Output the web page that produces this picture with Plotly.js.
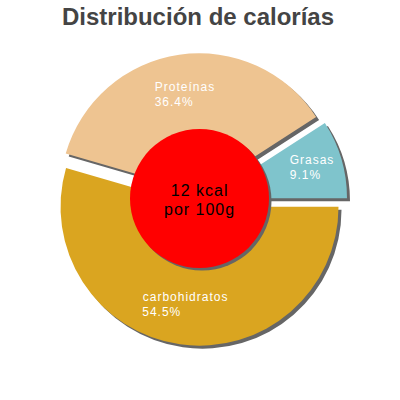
<!DOCTYPE html>
<html><head><meta charset="utf-8">
<script src="https://cdn.plot.ly/plotly-3.0.1.min.js"></script>
<style>
html,body{margin:0;padding:0;background:#fff;}
#chart{width:400px;height:400px;}
.pielayer text, .annotation-text { letter-spacing: 1px; }
</style>
</head><body><div id="chart"></div>
<script>
// ---- data ----
const categories = ['Grasas', 'Proteínas', 'carbohidratos'];
const percentValues = [9.1, 36.4, 54.5];
const titleText = 'Distribución de calorías';
const centerLines = ['12 kcal', 'por 100g'];

// ---- style ----
const sliceColors = ['#7fc4cc', '#eec491', '#daa520'];
const pulls = [0.057, 0.060, 0.045];
const shadowColor = '#666666';
const FONT = '"Liberation Sans", Arial, sans-serif';

const W = 400, H = 400;
const R = 139, cx = 200.4, cy = 200.5;
const maxPull = Math.max(...pulls);
const half = R * (1 + maxPull);
function dom(x, y) {
  return { x: [(x - half) / W, (x + half) / W], y: [1 - (y + half) / H, 1 - (y - half) / H] };
}

const total = percentValues.reduce((a, b) => a + b, 0);
// first slice starts at 3 o'clock and runs counterclockwise
const rotation = 90 - 360 * percentValues[0] / total;

// padding so the percent line appears left-aligned under the label
const ctx = document.createElement('canvas').getContext('2d');
ctx.font = '12px "Liberation Sans"';
const tw = s => ctx.measureText(s).width + s.length * 1;
const pads = categories.map((c, i) => {
  const pct = (percentValues[i] / total * 100).toFixed(1) + '%';
  const n = Math.max(0, Math.round((tw(c) - tw(pct)) / tw('\u00a0')));
  return '\u00a0'.repeat(n);
});

const common = {
  type: 'pie', labels: categories, values: percentValues, sort: false,
  direction: 'counterclockwise', rotation: rotation, pull: pulls, hole: 0.42,
  showlegend: false, hoverinfo: 'skip'
};

const shadow = Object.assign({}, common, {
  marker: { colors: categories.map(() => shadowColor), line: { width: 0 } },
  textinfo: 'none', domain: dom(cx + 3, cy + 3)
});
const main = Object.assign({}, common, {
  marker: { colors: sliceColors, line: { width: 0 } },
  customdata: pads,
  texttemplate: '%{label}<br>%{percent:.1%}%{customdata}',
  textposition: 'inside', insidetextorientation: 'horizontal',
  insidetextfont: { family: FONT, size: 12, color: '#ffffff' },
  domain: dom(cx, cy)
});

const ccx = 199.5, ccy = 198.5, cr = 69.5;
const layout = {
  width: W, height: H, margin: { l: 0, r: 0, t: 0, b: 0 },
  paper_bgcolor: '#ffffff', plot_bgcolor: '#ffffff',
  title: { text: titleText, font: { family: FONT, size: 24, color: '#444444', weight: 'bold' },
           x: 0.495, xanchor: 'center', y: 1 - 17 / H, yanchor: 'middle', yref: 'container' },
  shapes: [
    { type: 'circle', xref: 'paper', yref: 'paper', layer: 'above',
      x0: (ccx - cr + 2.5) / W, x1: (ccx + cr + 2.5) / W, y0: 1 - (ccy + cr + 2.5) / H, y1: 1 - (ccy - cr + 2.5) / H,
      fillcolor: shadowColor, line: { width: 0 } },
    { type: 'circle', xref: 'paper', yref: 'paper', layer: 'above',
      x0: (ccx - cr) / W, x1: (ccx + cr) / W, y0: 1 - (ccy + cr) / H, y1: 1 - (ccy - cr) / H,
      fillcolor: '#ff0000', line: { width: 0 } }
  ],
  annotations: [
    { text: centerLines.join('<br>'), xref: 'paper', yref: 'paper', x: ccx / W, y: 1 - 200 / H,
      xanchor: 'center', yanchor: 'middle', showarrow: false,
      font: { family: FONT, size: 16, color: '#000000' } }
  ]
};

// adjust the line spacing of multi-line texts (Plotly default is 1.3em)
function tighten(sel, spacing) {
  document.querySelectorAll(sel).forEach(t => {
    const lines = Array.from(t.querySelectorAll('tspan.line'));
    if (lines.length < 2) return;
    const shift = (1.3 - spacing) * (lines.length - 1) / 2;
    lines.forEach((ln, k) => {
      const absolute = ln.hasAttribute('y');
      let dy;
      if (absolute) dy = k * spacing + shift;
      else dy = k === 0 ? shift : spacing;
      ln.setAttribute('dy', dy + 'em');
    });
  });
}

Plotly.newPlot('chart', [shadow, main], layout, { staticPlot: true, displayModeBar: false })
  .then(() => { tighten('.pielayer text.slicetext', 1.2); tighten('.annotation-text', 1.15); });
</script></body></html>
